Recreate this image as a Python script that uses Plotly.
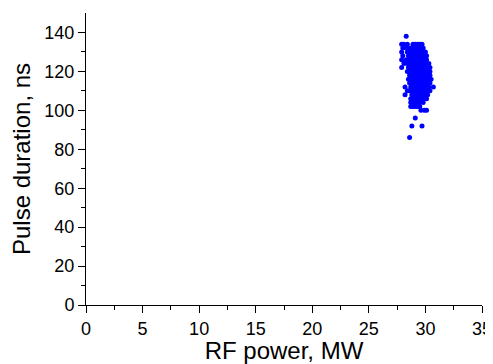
import plotly.graph_objects as go

# Pulse duration rows (ns) and the RF power values (MW) measured at each
row_durations = [138, 134, 132, 130, 128, 126, 124, 122, 120, 118, 116, 114,
                 112, 110, 108, 106, 104, 102, 100, 96, 92, 86]
row_powers = [
    [28.3],
    [27.9, 28.1, 28.4, 28.9, 29.1, 29.3, 29.5, 29.7],
    [28.0, 28.3, 28.6, 28.9, 29.1, 29.3, 29.5, 29.8],
    [27.9, 28.4, 28.6, 28.8, 29.0, 29.2, 29.4, 29.6, 29.8, 30.0],
    [28.0, 28.5, 28.7, 28.9, 29.1, 29.3, 29.5, 29.7, 29.9, 30.1],
    [27.9, 28.3, 28.5, 28.7, 28.9, 29.1, 29.3, 29.5, 29.7, 29.9, 30.1],
    [28.1, 28.4, 28.6, 28.8, 29.0, 29.2, 29.4, 29.6, 29.8, 30.0, 30.3],
    [27.9, 28.5, 28.7, 28.9, 29.1, 29.3, 29.5, 29.7, 29.9, 30.1, 30.4],
    [28.4, 28.6, 28.8, 29.0, 29.2, 29.4, 29.6, 29.8, 30.0, 30.2, 30.4],
    [28.6, 28.8, 29.0, 29.2, 29.4, 29.6, 29.8, 30.0, 30.2, 30.4],
    [28.5, 28.7, 28.9, 29.1, 29.3, 29.5, 29.7, 29.9, 30.1, 30.3, 30.5],
    [28.6, 28.8, 29.0, 29.2, 29.4, 29.6, 29.8, 30.0, 30.2, 30.4],
    [28.2, 28.7, 28.9, 29.1, 29.3, 29.5, 29.7, 29.9, 30.1, 30.3, 30.7],
    [28.4, 28.6, 28.8, 29.0, 29.2, 29.4, 29.6, 29.8, 30.0, 30.2, 30.4],
    [28.2, 28.8, 29.0, 29.2, 29.4, 29.6, 29.8, 30.0, 30.2],
    [28.7, 28.9, 29.1, 29.3, 29.5, 29.7, 29.9, 30.1],
    [28.7, 28.9, 29.1, 29.3, 29.5, 29.8],
    [28.7, 28.9, 29.1, 29.3, 29.5],
    [29.6, 29.9, 30.1],
    [29.1],
    [28.8, 29.7],
    [28.6],
]

x_ticks = [0, 5, 10, 15, 20, 25, 30, 35]
y_ticks = [0, 20, 40, 60, 80, 100, 120, 140]

xs, ys = [], []
for d, powers in zip(row_durations, row_powers):
    for p in powers:
        xs.append(p)
        ys.append(d)

fig = go.Figure()
fig.add_trace(go.Scatter(
    x=xs, y=ys, mode="markers",
    marker=dict(color="#0000FF", size=5, line=dict(width=0)),
    showlegend=False,
))

font_family = "Liberation Sans, Arial, sans-serif"
axis_common = dict(
    showgrid=False, zeroline=False, showline=True, linecolor="black", linewidth=1,
    ticks="outside", ticklen=7, tickwidth=1, tickcolor="black", automargin=False,
    tickfont=dict(family=font_family, size=18, color="black"),
    minor=dict(ticks="outside", ticklen=4, tickwidth=1, tickcolor="black"),
)

# page body has an 8px default margin, so the figure is sized to fit inside it
fig.update_layout(
    width=485, height=356,
    margin=dict(l=78, r=11, t=5, b=59),
    paper_bgcolor="white", plot_bgcolor="white",
    xaxis=dict(range=[0, 35], tickvals=x_ticks, ticktext=[str(v) for v in x_ticks],
               title=dict(text="RF power, MW", font=dict(family=font_family, size=24, color="black")),
               **axis_common),
    yaxis=dict(range=[0, 150], tickvals=y_ticks, ticktext=[str(v) for v in y_ticks],
               title=dict(text="Pulse duration, ns", font=dict(family=font_family, size=24, color="black")),
               **axis_common),
)
fig.update_xaxes(minor=dict(tickvals=[2.5, 7.5, 12.5, 17.5, 22.5, 27.5, 32.5]))
fig.update_yaxes(minor=dict(tickvals=[10, 30, 50, 70, 90, 110, 130]))

fig.write_html("out.html")
